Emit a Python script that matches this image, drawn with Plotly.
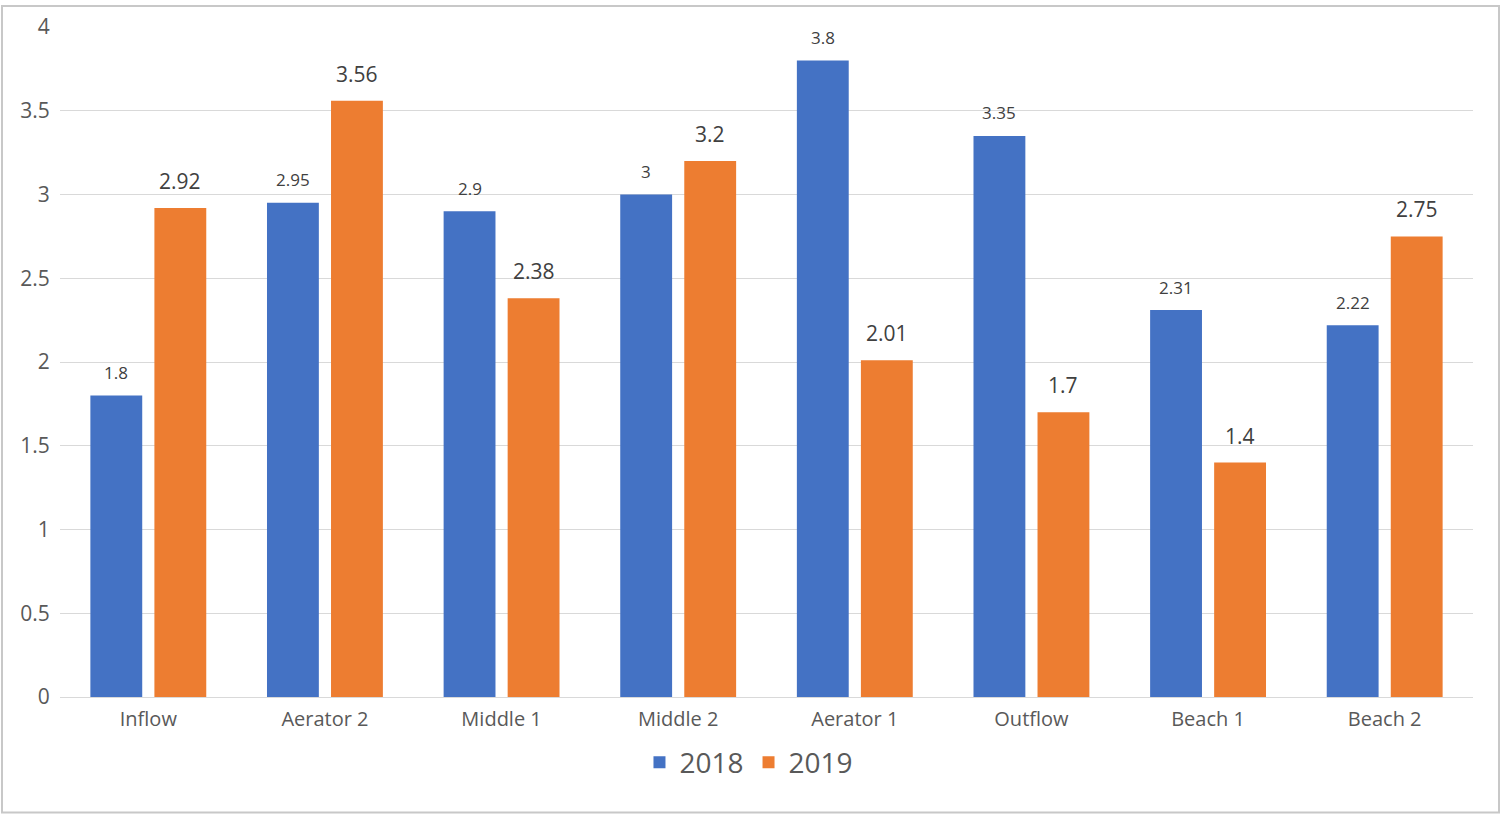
import plotly.graph_objects as go

categories = ["Inflow", "Aerator 2", "Middle 1", "Middle 2", "Aerator 1", "Outflow", "Beach 1", "Beach 2"]
values_2018 = [1.8, 2.95, 2.9, 3, 3.8, 3.35, 2.31, 2.22]
values_2019 = [2.92, 3.56, 2.38, 3.2, 2.01, 1.7, 1.4, 2.75]
y_ticks = [0, 0.5, 1, 1.5, 2, 2.5, 3, 3.5, 4]
y_tick_labels = ["0", "0.5", "1", "1.5", "2", "2.5", "3", "3.5", "4"]

FONT = "Open Sans"
W, H = 1502, 816
ML, MR, MT, MB = 60, 29, 24, 119
pw, ph = W - ML - MR, H - MT - MB
SLOT_OFFSET = 32  # px from category centre to each bar centre

fig = go.Figure()
fig.add_trace(go.Bar(
    name="2018", x=categories, y=values_2018,
    marker=dict(color="#4472C4", line=dict(width=0)),
))
fig.add_trace(go.Bar(
    name="2019", x=categories, y=values_2019,
    marker=dict(color="#ED7D31", line=dict(width=0)),
))

annotations = []
for c, v in zip(categories, values_2018):
    annotations.append(dict(x=c, y=v, xref="x", yref="y", text=str(v), showarrow=False,
                            xshift=-SLOT_OFFSET, yshift=23, yanchor="middle",
                            font=dict(family=FONT, size=17, color="#404040")))
for c, v in zip(categories, values_2019):
    annotations.append(dict(x=c, y=v, xref="x", yref="y", text=str(v), showarrow=False,
                            xshift=SLOT_OFFSET, yshift=27, yanchor="middle",
                            font=dict(family=FONT, size=21, color="#404040")))

fig.update_layout(
    width=W, height=H,
    margin=dict(l=ML, r=MR, t=MT, b=MB, pad=0),
    paper_bgcolor="white", plot_bgcolor="white",
    barmode="group", bargap=0.275, bargroupgap=0.19,
    font=dict(family=FONT, color="#595959"),
    showlegend=True,
    legend=dict(orientation="h", x=0.4876, xanchor="center", y=-0.098, yanchor="middle",
                font=dict(family=FONT, size=28, color="#595959"),
                itemwidth=30, traceorder="normal"),
    xaxis=dict(showgrid=False, showline=True, linecolor="#d9d9d9", linewidth=1,
               ticks="outside", ticklen=4, tickcolor="white",
               tickfont=dict(family=FONT, size=20, color="#595959")),
    yaxis=dict(range=[0, 4], tickvals=y_ticks, ticktext=y_tick_labels,
               showgrid=True, gridcolor="#d9d9d9", gridwidth=1, zeroline=False,
               showline=False, ticks="outside", ticklen=5, tickcolor="white",
               tickfont=dict(family=FONT, size=21, color="#595959")),
    annotations=annotations,
    shapes=[dict(type="rect", xref="paper", yref="paper",
                 x0=(2 - ML) / pw, x1=(W - 3 - ML) / pw,
                 y0=(H - MB - (H - 3)) / ph, y1=(H - MB - 3) / ph,
                 line=dict(color="#c8c8c8", width=2), layer="below")],
)

fig.write_html("out.html")
